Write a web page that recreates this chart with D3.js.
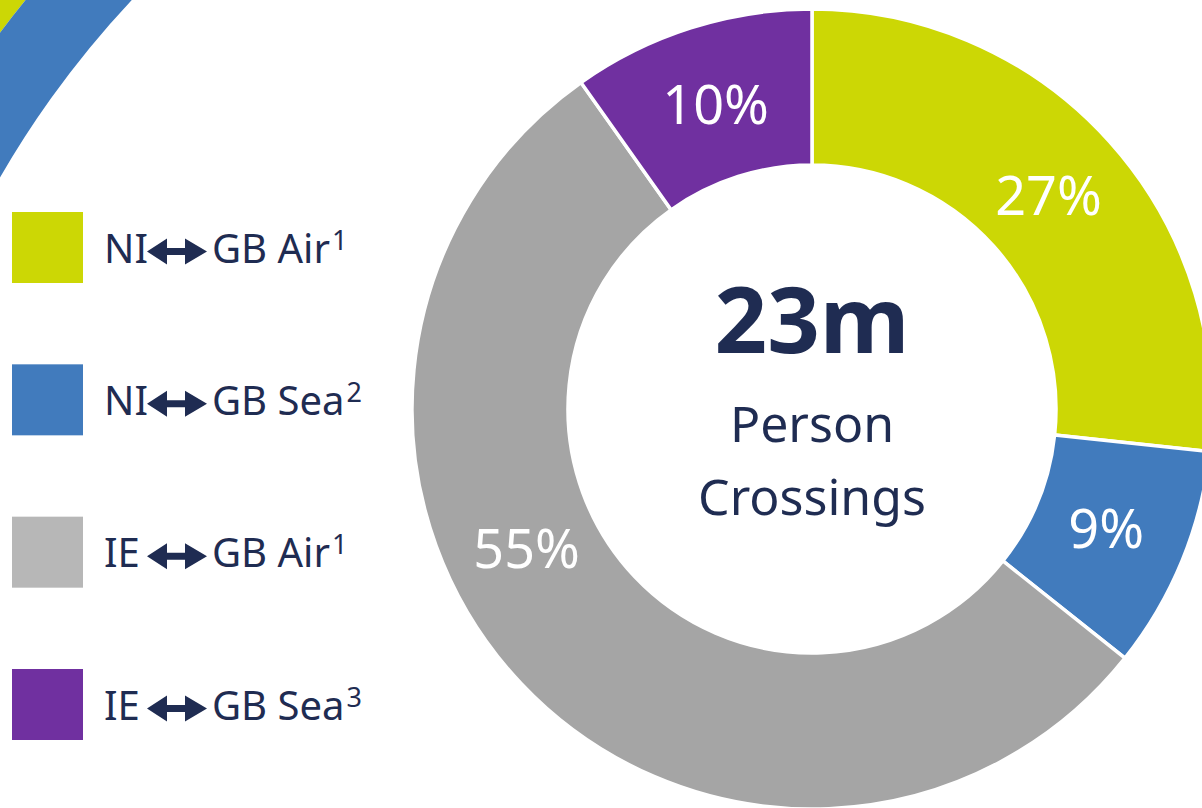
<!DOCTYPE html>
<html lang="en">
<head>
<meta charset="utf-8">
<title>Person crossings</title>
<script src="https://cdn.jsdelivr.net/npm/d3@7"></script>
<style>
  body { margin: 0; background: #fff; }
  svg { display: block; font-family: "Noto Sans", "Open Sans", sans-serif; }
</style>
</head>
<body>
<div id="chart"></div>
<script>
// chart data
var routes  = ["NI-GB Air", "NI-GB Sea", "IE-GB Air", "IE-GB Sea"];
var shares  = [26.7, 9.0, 54.5, 9.8];
var legFrom = ["NI", "NI", "IE", "IE"];
var legTo   = ["GB Air", "GB Sea", "GB Air", "GB Sea"];
var notes   = ["1", "2", "1", "3"];
var totalLabel = "23m";
var centreLines = ["Person", "Crossings"];

var W = 1202, H = 808;
var navy = "#1F2C52";
var ringColours = d3.scaleOrdinal().domain(routes)
  .range(["#CCD705", "#417BBD", "#A5A5A5", "#7030A0"]);
var legendColours = d3.scaleOrdinal().domain(routes)
  .range(["#CCD705", "#417BBD", "#B7B7B7", "#7030A0"]);

var svg = d3.select("#chart").append("svg")
  .attr("width", W).attr("height", H);

// decorative ring in the top-left corner
var deco = svg.append("g").attr("transform", "translate(834,659)");
var decoArc = d3.arc().startAngle(-1.5).endAngle(-0.4);
deco.append("path")
  .attr("d", decoArc.innerRadius(1043).outerRadius(1130)())
  .attr("fill", "#CCD705");
deco.append("path")
  .attr("d", decoArc.innerRadius(963).outerRadius(1043)())
  .attr("fill", "#417BBD");

// donut
var cx = 812, cy = 409, rOut = 400, rIn = 244;
var pie = d3.pie().sort(null).value(function(d) { return d.v; });
var arcs = pie(routes.map(function(r, i) { return { k: r, v: shares[i] }; }));
var arc = d3.arc().innerRadius(rIn).outerRadius(rOut);
var labelR = 318;

var donut = svg.append("g").attr("transform", "translate(" + cx + "," + cy + ")");
donut.selectAll("path.slice")
  .data(arcs)
  .enter().append("path")
  .attr("class", "slice")
  .attr("d", arc)
  .attr("fill", function(d) { return ringColours(d.data.k); })
  .attr("stroke", "#fff")
  .attr("stroke-width", 3.5);

// the big slice label sits further round than its centroid
var nudge = { "IE-GB Air": 0.3 };
donut.selectAll("text.pct")
  .data(arcs)
  .enter().append("text")
  .attr("class", "pct")
  .attr("x", function(d) {
    var a = (d.startAngle + d.endAngle) / 2 + (nudge[d.data.k] || 0);
    return labelR * Math.sin(a);
  })
  .attr("y", function(d) {
    var a = (d.startAngle + d.endAngle) / 2 + (nudge[d.data.k] || 0);
    return -labelR * Math.cos(a);
  })
  .attr("dy", "0.34em")
  .attr("text-anchor", "middle")
  .attr("fill", "#fff")
  .attr("font-size", 54)
  .text(function(d) { return Math.round(d.data.v) + "%"; });

// centre text
svg.append("text")
  .attr("x", cx).attr("y", 353)
  .attr("text-anchor", "middle")
  .attr("fill", navy)
  .attr("font-size", 92)
  .attr("font-weight", "bold")
  .text(totalLabel);
svg.selectAll("text.centre")
  .data(centreLines)
  .enter().append("text")
  .attr("class", "centre")
  .attr("x", cx)
  .attr("y", function(d, i) { return 442 + i * 73; })
  .attr("text-anchor", "middle")
  .attr("fill", navy)
  .attr("font-size", 50)
  .text(function(d) { return d; });

// legend
var rowY = d3.scalePoint().domain(routes).range([247.5, 704.5]);
var legend = svg.selectAll("g.leg")
  .data(routes)
  .enter().append("g")
  .attr("class", "leg")
  .attr("transform", function(d) { return "translate(0," + rowY(d) + ")"; });

legend.append("rect")
  .attr("x", 12).attr("y", -35.5)
  .attr("width", 71).attr("height", 71)
  .attr("fill", function(d) { return legendColours(d); });

legend.append("text")
  .attr("x", 104).attr("y", 15)
  .attr("fill", navy)
  .attr("font-size", 40)
  .text(function(d, i) { return legFrom[i]; });

// double headed arrow
legend.append("path")
  .attr("d", "M147,4 L167,-9 L167,0.5 L185,0.5 L185,-9 L207,4 L185,17 L185,7.5 L167,7.5 L167,17 Z")
  .attr("fill", navy);

var lab = legend.append("text")
  .attr("x", 212).attr("y", 15)
  .attr("fill", navy)
  .attr("font-size", 40);
lab.append("tspan").text(function(d, i) { return legTo[i]; });
lab.append("tspan")
  .attr("dx", 2).attr("dy", -13)
  .attr("font-size", 27)
  .text(function(d, i) { return notes[i]; });
</script>
</body>
</html>
